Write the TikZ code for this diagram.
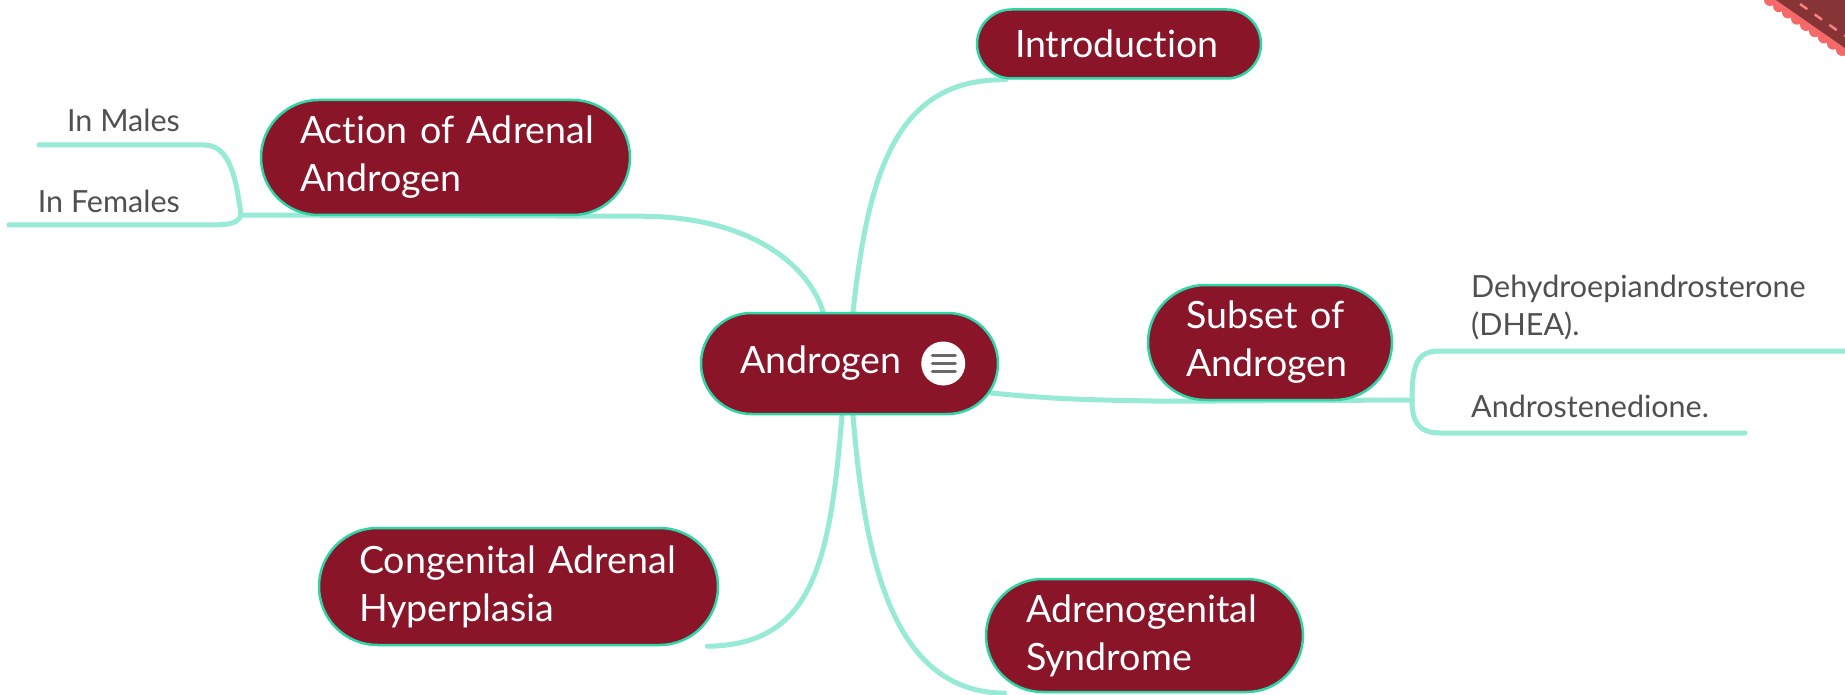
\documentclass[tikz,border=0pt]{standalone}
\usepackage{fontspec}
\setmainfont{Lato}[Ligatures={NoCommon}]
\usetikzlibrary{calc}
\definecolor{nodefill}{RGB}{138,20,40}
\definecolor{nodeborder}{RGB}{46,214,166}
\definecolor{linkcol}{RGB}{151,234,213}
\definecolor{leaftext}{RGB}{80,80,80}
\definecolor{ribbondark}{RGB}{135,52,55}
\definecolor{ribbonedge}{RGB}{245,105,105}
\definecolor{icongray}{RGB}{105,105,105}
\pgfdeclarelayer{bg}
\pgfsetlayers{bg,main}
\tikzset{
  topic/.style={draw=nodeborder, line width=2.5pt, fill=nodefill, text=white,
    font=\fontsize{37.6}{48}\selectfont, align=left, inner ysep=0pt, rectangle},
  leaf/.style={text=leaftext, font=\fontsize{30.5}{38}\selectfont, inner sep=0pt},
  link/.style={draw=linkcol, line width=5pt, line cap=round},
  iconline/.style={draw=icongray, line width=3pt, line cap=round}
}
\begin{document}
\begin{tikzpicture}[x=1pt, y=-1pt]
\useasboundingbox (0,0) rectangle (1845,695);

% ribbon in the corner
\foreach \t in {0,0.12,...,1.0} {
  \fill[ribbonedge] ($(1770,0)!\t!(1845,52)$) circle (6);
}
\fill[ribbonedge] (1768,0) -- (1845,0) -- (1845,56) -- cycle;
\fill[ribbondark] (1776,0) -- (1845,0) -- (1845,48) -- cycle;
\draw[ribbonedge!85!white, line width=2.5pt, dash pattern=on 9pt off 9pt] (1800,4) -- (1845,36);

% topics
\node[topic, minimum height=101pt, rounded corners=50.5pt, text width=219pt, inner xsep=39pt] (androgen) at (849.5,363.5) {Androgen};
\node[topic, minimum height=69pt, rounded corners=34.5pt, text width=208pt, inner xsep=38pt] (intro) at (1119,44) {Introduction};
\node[topic, minimum height=115pt, rounded corners=57.5pt, text width=291pt, inner xsep=39pt] (action) at (445.5,157.5) {\mbox{Action of Adrenal}\\Androgen};
\node[topic, minimum height=115pt, rounded corners=57.5pt, text width=168pt, inner xsep=38pt] (subset) at (1270,342.5) {\mbox{Subset of}\\Androgen};
\node[topic, minimum height=117pt, rounded corners=58.5pt, text width=319pt, inner xsep=40pt] (congenital) at (518.5,586.5) {\mbox{Congenital Adrenal}\\Hyperplasia};
\node[topic, minimum height=113pt, rounded corners=56.5pt, text width=237pt, inner xsep=40pt] (adreno) at (1144.5,635.5) {\mbox{Adrenogenital}\\Syndrome};

% note icon in the central topic
\coordinate (icon) at ($(androgen.east)+(-56,0)$);
\fill[white] (icon) circle (22);
\draw[iconline] ($(icon)+(-11,-8)$) -- ($(icon)+(12,-8)$);
\draw[iconline] ($(icon)+(-11,0)$) -- ($(icon)+(12,0)$);
\draw[iconline] ($(icon)+(-11,8)$) -- ($(icon)+(12,8)$);

% leaves
\node[leaf, anchor=base east] (males) at (180,132) {In Males};
\node[leaf, anchor=base east] (females) at (180,213) {In Females};
\node[leaf, anchor=base west, align=left] (dhea) at (1471,335) {Dehydroepiandrosterone\\(DHEA).};
\node[leaf, anchor=base west] (andro) at (1471,417) {Androstenedione.};

\coordinate (actbranch) at (241,215);
\coordinate (malesend) at (39,145);
\coordinate (femalesend) at (9,225);
\coordinate (subbranch) at (1412,400);
\coordinate (dheaend) at (1845,351);
\coordinate (androend) at (1745,433);

\begin{pgfonlayer}{bg}
\fill[white] (0,0) rectangle (1845,695);
\draw[link] ($(androgen.north)+(3.5,0)$) .. controls (868,177) and (894,78) .. ($(intro.south west)+(30,0)$);
\draw[link] ($(androgen.north)+(-26.5,0)$) .. controls (810,268) and (753,215) .. ($(action.south east)+(5,0)$) -- (actbranch);
\draw[link] (actbranch) .. controls (236,178) and (230,145) .. (204,145) -- (malesend);
\draw[link] (actbranch) .. controls (238,225) and (225,225) .. (204,225) -- (femalesend);
\draw[link] ($(androgen.east)+(-8,29.5)$) .. controls (1060,400) and (1100,400) .. ($(subset.south west)+(20,0)$) -- (subbranch);
\draw[link] (subbranch) .. controls (1412,362) and (1418,351) .. (1440,351) -- (dheaend);
\draw[link] (subbranch) .. controls (1412,421) and (1418,433) .. (1440,433) -- (androend);
\draw[link] ($(androgen.south)+(-7.5,0)$) .. controls (830,565) and (812,645) .. ($(congenital.south east)+(-12,0)$);
\draw[link] ($(androgen.south)+(3.5,0)$) .. controls (865,565) and (894,692) .. ($(adreno.south west)+(20,0)$);
\end{pgfonlayer}
\end{tikzpicture}
\end{document}
